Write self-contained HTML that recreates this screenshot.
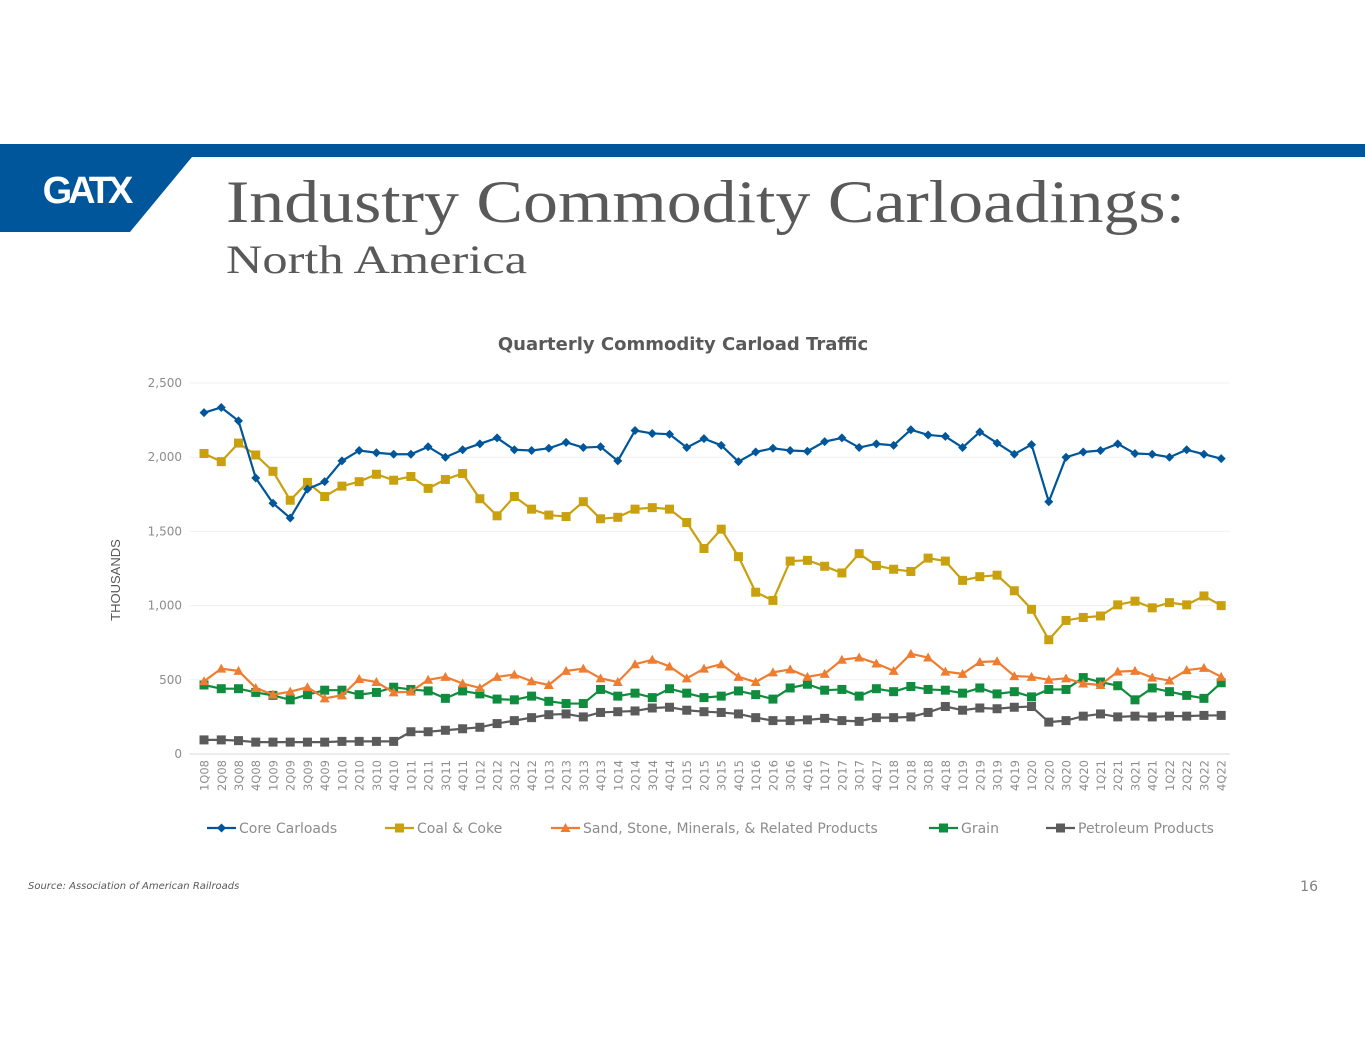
<!DOCTYPE html>
<html><head><meta charset="utf-8">
<style>
body{margin:0;background:#fff;width:1365px;height:1055px;overflow:hidden;position:relative;font-family:"Liberation Sans",sans-serif}
.abs{position:absolute}
</style></head><body>
<svg class="abs" style="left:0;top:0" width="1365" height="1055">
  <rect x="0" y="144" width="1365" height="13" fill="#00569a"/>
  <polygon points="0,144 192,144 192,157 130,232 0,232" fill="#00569a"/>
  <text x="86" y="203" text-anchor="middle" font-family="Liberation Sans, sans-serif" font-weight="bold" font-size="38" fill="#fff" letter-spacing="-4">GATX</text>
  <text x="226" y="222" textLength="959" lengthAdjust="spacingAndGlyphs" font-family="Liberation Serif, serif" font-size="60" fill="#595959">Industry Commodity Carloadings:</text>
  <text x="226" y="273" textLength="301" lengthAdjust="spacingAndGlyphs" font-family="Liberation Serif, serif" font-size="40" fill="#595959">North America</text>
  <text x="683" y="350" text-anchor="middle" font-family="DejaVu Sans, sans-serif" font-weight="bold" font-size="18" fill="#595959">Quarterly Commodity Carload Traffic</text>
  <text transform="translate(120,580) rotate(-90)" text-anchor="middle" font-size="13" fill="#595959">THOUSANDS</text>
  <text x="28" y="889" font-family="DejaVu Sans, sans-serif" font-style="italic" font-size="10" fill="#595959">Source: Association of American Railroads</text>
  <text x="1318" y="891" text-anchor="end" font-family="DejaVu Sans, sans-serif" font-size="14" fill="#7f7f7f">16</text>
  <g id="chart"></g>
</svg>
<script>
const categories=[];for(let y=8;y<=22;y++)for(let q=1;q<=4;q++)categories.push(q+'Q'+String(y).padStart(2,'0'));
const yTicks=[0,500,1000,1500,2000,2500];
const yTickLabels=['0','500','1,000','1,500','2,000','2,500'];
const coreCarloads=[2300,2335,2245,1860,1690,1590,1785,1835,1975,2045,2030,2020,2020,2070,2000,2050,2090,2130,2050,2045,2060,2100,2065,2070,1975,2180,2160,2155,2065,2125,2080,1970,2035,2060,2045,2040,2105,2130,2065,2090,2080,2185,2150,2140,2065,2170,2095,2020,2085,1700,2000,2035,2045,2090,2025,2020,2000,2050,2020,1990];
const coalCoke=[2025,1970,2095,2015,1905,1710,1830,1735,1805,1835,1885,1845,1870,1790,1850,1890,1720,1605,1735,1650,1610,1600,1700,1585,1595,1650,1660,1650,1560,1385,1515,1330,1090,1035,1300,1305,1265,1220,1350,1270,1245,1230,1320,1300,1170,1195,1205,1100,975,770,900,920,930,1005,1030,985,1020,1005,1065,1000];
const sandStone=[490,575,560,445,400,420,450,375,395,505,485,415,420,500,520,475,445,520,535,490,465,560,575,510,485,605,635,590,510,575,605,520,485,550,570,520,540,635,650,610,560,675,650,555,540,620,625,525,520,500,510,475,465,555,560,515,495,565,580,520];
const grain=[465,440,440,415,395,365,400,430,430,400,415,450,435,425,375,425,405,370,365,390,355,340,340,435,390,410,380,440,410,380,390,425,400,370,445,470,430,435,390,440,420,455,435,430,410,445,405,420,385,435,435,515,485,460,365,445,420,395,375,480];
const petroleum=[95,95,90,80,80,80,80,80,85,85,85,85,150,150,160,170,180,205,225,245,265,270,250,280,285,290,310,315,295,285,280,270,245,225,225,230,240,225,220,245,245,250,280,320,295,310,305,315,320,215,225,255,270,250,255,250,255,255,260,260];
const seriesNames=['Core Carloads','Coal & Coke','Sand, Stone, Minerals, & Related Products','Grain','Petroleum Products'];

const NS='http://www.w3.org/2000/svg';
const g=document.getElementById('chart');
const X0=195.4,X1=1229.8,Y0=754,Y1=383,VMAX=2500;
const band=(X1-X0)/categories.length;
function xs(i){return X0+band*(i+0.5);}
function ys(v){return Y0-(v/VMAX)*(Y0-Y1);}
function mk(t,a,p){const e=document.createElementNS(NS,t);for(const k in a)e.setAttribute(k,a[k]);(p||g).appendChild(e);return e;}

yTicks.forEach((t,i)=>{
  const l=mk('line',{x1:X0-6,x2:X1,y1:ys(t),y2:ys(t),stroke:i===0?'#d9d9d9':'#f0f0f0','stroke-width':1});
  
  
  const tx=mk('text',{x:182,y:ys(t)+4,'text-anchor':'end','font-size':12,fill:'#8c8c8c','font-family':'DejaVu Sans, sans-serif'});
  tx.textContent=yTickLabels[i];
  
  
});
categories.forEach((c,i)=>{
  const tx=mk('text',{transform:`translate(${xs(i)+4.5},760) rotate(-90)`,'text-anchor':'end','font-size':11.5,fill:'#8c8c8c','font-family':'DejaVu Sans, sans-serif'});
  tx.textContent=c;
  
  
});
function marker(shape,x,y,color,parent){
  let e;
  if(shape==='diamond')e=mk('polygon',{points:`${x},${y-4.5} ${x+4.5},${y} ${x},${y+4.5} ${x-4.5},${y}`,fill:color},parent);
  else if(shape==='tri')e=mk('polygon',{points:`${x},${y-5} ${x+5},${y+4} ${x-5},${y+4}`,fill:color},parent);
  else e=mk('rect',{x:x-4.5,y:y-4.5,width:9,height:9,fill:color},parent);
  return e;
}
const defs=[[coreCarloads,'#00569a','diamond','core-carloads'],[coalCoke,'#c9a00e','square','coal-coke'],[sandStone,'#ee7d31','tri','sand-stone'],[grain,'#0f8c3e','square','grain'],[petroleum,'#5b5b5b','square','petroleum']];
const drawOrder=[4,3,2,1,0];
drawOrder.forEach(k=>{
  const [vals,col,shape,nm]=defs[k];
  const sg=mk('g',{});
  
  
  const pl=mk('polyline',{points:vals.map((v,i)=>xs(i)+','+ys(v)).join(' '),fill:'none',stroke:col,'stroke-width':2.2,'stroke-linejoin':'round'},sg);
  
  
  vals.forEach((v,i)=>{
    const m=marker(shape,xs(i),ys(v),col,sg);
    
    
  });
});
const legX=[207,385,551,929,1046];
defs.forEach((d,k)=>{
  const lg=mk('g',{});
  
  
  mk('line',{x1:legX[k],x2:legX[k]+29,y1:828,y2:828,stroke:d[1],'stroke-width':2.2},lg);
  marker(d[2],legX[k]+14.5,828,d[1],lg);
  const t=mk('text',{x:legX[k]+32,y:833,'font-size':14,fill:'#8c8c8c','font-family':'DejaVu Sans, sans-serif'},lg);
  t.textContent=seriesNames[k];
});
</script>
</body></html>
